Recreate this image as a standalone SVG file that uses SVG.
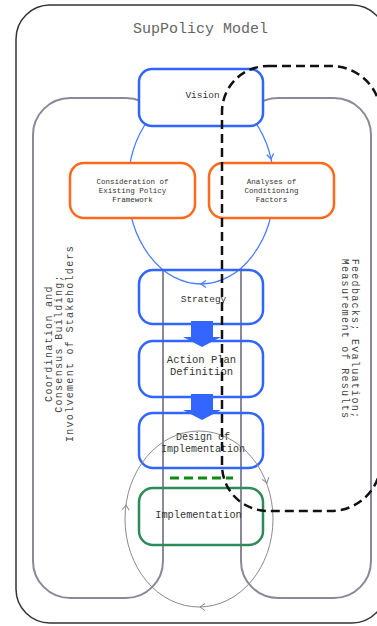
<svg xmlns="http://www.w3.org/2000/svg" xmlns:xlink="http://www.w3.org/1999/xlink" width="377" height="626" viewBox="0 0 377 626">
  <style>
    .frame { fill: #fff; stroke: #333; stroke-width: 1.5; }
    .lane { fill: none; stroke: #8c8898; stroke-width: 2; }
    .cycle-blue { fill: #fff; stroke: #4d7fff; stroke-width: 1.3; }
    .cycle-gray { fill: none; stroke: #8a8a8a; stroke-width: 1; }
    .blue { fill: #fff; stroke: #2f66ff; stroke-width: 2.5; }
    .blue-open { fill: none; stroke: #2f66ff; stroke-width: 2.5; }
    .orange { fill: #fff; stroke: #ff6a1a; stroke-width: 2.5; }
    .green { fill: none; stroke: #2e8b57; stroke-width: 2.5; }
    .flow { fill: #3366ff; stroke: none; }
    .feedback { fill: none; stroke: #111; stroke-width: 2.5; stroke-dasharray: 9 5; }
    .link { stroke: #118a11; stroke-width: 3; stroke-dasharray: 9 5; }
    .ch-blue { fill: none; stroke: #4d7fff; stroke-width: 1.3; }
    .ch-gray { fill: none; stroke: #8a8a8a; stroke-width: 1; }
    text { font-family: "Liberation Mono", "DejaVu Sans Mono", monospace; fill: #333; text-anchor: middle; }
    .title { font-size: 15px; fill: #666; }
    .lbl { font-size: 9.5px; }
    .small { font-size: 7.5px; }
    .side { font-size: 10px; letter-spacing: 1.3px; fill: #444; }
  </style>
  <defs>
    <path id="chev" d="M-5,-3.5 L0,0 L-5,3.5"/>
  </defs>

  <!-- outer frame -->
  <g id="frame">
    <rect class="frame" x="16" y="5" width="370" height="618" rx="34"/>
    <text class="title" x="200.5" y="33">SupPolicy Model</text>
  </g>

  <!-- side lanes -->
  <g id="lane-coordination">
    <rect class="lane" x="33" y="98" width="130" height="500" rx="37"/>
    <text class="side" transform="translate(51.5,343.5) rotate(-90)">Coordination and</text>
    <text class="side" transform="translate(62,343.5) rotate(-90)">Consensus Building;</text>
    <text class="side" transform="translate(72.5,343.5) rotate(-90)">Involvement of Stakeholders</text>
  </g>
  <g id="lane-feedback">
    <rect class="lane" x="241" y="98" width="130" height="500" rx="37"/>
    <text class="side" transform="translate(351.5,339) rotate(90)">Feedbacks; Evaluation;</text>
    <text class="side" transform="translate(341.5,339) rotate(90)">Measurement of Results</text>
  </g>

  <!-- planning cycle -->
  <g id="cycle-planning">
    <ellipse class="cycle-blue" cx="201" cy="187" rx="73" ry="97"/>
    <use href="#chev" class="ch-blue" transform="translate(271,159) rotate(80)"/>
    <use href="#chev" class="ch-blue" transform="translate(201,284) rotate(180)"/>
  </g>

  <g id="vision">
    <rect class="blue" x="139" y="69" width="124" height="57" rx="13"/>
    <text class="lbl" x="202.5" y="98">Vision</text>
  </g>

  <g id="policy-framework">
    <rect class="orange" x="70" y="163" width="125" height="55" rx="14"/>
    <text class="small" x="132.5" y="184">Consideration of</text>
    <text class="small" x="132.5" y="193">Existing Policy</text>
    <text class="small" x="132.5" y="202">Framework</text>
  </g>

  <g id="conditioning-factors">
    <rect class="orange" x="209" y="163" width="125" height="55" rx="14"/>
    <text class="small" x="271.5" y="184">Analyses of</text>
    <text class="small" x="271.5" y="193">Conditioning</text>
    <text class="small" x="271.5" y="202">Factors</text>
  </g>

  <g id="strategy">
    <rect class="blue-open" x="139" y="270" width="124" height="54" rx="14"/>
    <text class="lbl" x="203.5" y="302">Strategy</text>
  </g>

  <g id="action-plan">
    <rect class="blue-open" x="139" y="341" width="124" height="56" rx="14"/>
    <text class="lbl" x="201.5" y="363" style="font-size:10.5px">Action Plan</text>
    <text class="lbl" x="201.5" y="375" style="font-size:10.5px">Definition</text>
  </g>

  <g id="design">
    <rect class="blue-open" x="139" y="413" width="124" height="55" rx="14"/>
    <text class="lbl" x="203" y="439.5" style="font-size:10px">Design of</text>
    <text class="lbl" x="203" y="451.5" style="font-size:10px">Implementation</text>
  </g>

  <!-- implementation cycle -->
  <g id="cycle-implementation">
    <ellipse class="cycle-gray" cx="199" cy="519" rx="74" ry="88"/>
    <use href="#chev" class="ch-gray" transform="translate(267,483) rotate(72)"/>
    <use href="#chev" class="ch-gray" transform="translate(200,607) rotate(180)"/>
    <use href="#chev" class="ch-gray" transform="translate(126,505) rotate(-86)"/>
  </g>

  <g id="implementation">
    <rect class="green" x="139" y="488" width="124" height="57" rx="14"/>
    <text class="lbl" x="198.5" y="518" style="font-size:10.3px">Implementation</text>
  </g>

  <!-- connectors -->
  <g id="connectors">
    <polygon class="flow" points="191,321 213,321 213,337 221,337 202,347 183,337 191,337"/>
    <polygon class="flow" points="191,394 213,394 213,410 221,410 202,420 183,410 191,410"/>
    <line class="link" x1="170" y1="478" x2="233" y2="478"/>
    <path class="feedback" d="M268,66 H331 A50,50 0 0 1 381,116 V461 A50,50 0 0 1 331,511 H268 A46,46 0 0 1 222,465 V112 A46,46 0 0 1 268,66 Z"/>
  </g>
</svg>
